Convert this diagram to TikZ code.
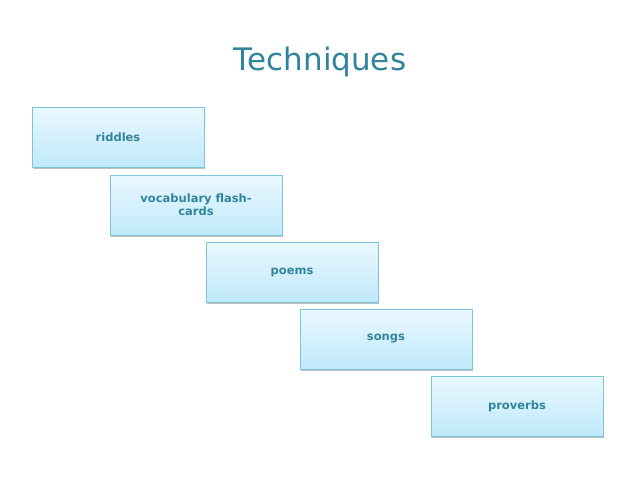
\documentclass[tikz,border=0pt]{standalone}
\usepackage{fontspec}
\setmainfont{DejaVu Sans}
\usetikzlibrary{shadows}
\definecolor{teal}{HTML}{31849B}
\definecolor{ttop}{HTML}{EAF8FE}
\definecolor{tbot}{HTML}{BFE9FB}
\definecolor{bord}{HTML}{7DC3D9}
\begin{document}
\begin{tikzpicture}[x=1pt,y=-1pt,
  box/.style={draw=bord,line width=0.8pt,top color=ttop,bottom color=tbot,
    minimum width=172pt,minimum height=60pt,text width=160pt,align=center,
    font=\bfseries\fontsize{11.5}{13}\selectfont,text=teal,
    drop shadow={shadow xshift=1pt,shadow yshift=-1.5pt,fill=gray!70,opacity=0.7}}]
\useasboundingbox[fill=white] (0,0) rectangle (640,480);
\node[text=teal,font=\fontsize{31}{36}\selectfont] (title) at (320,62) {Techniques};
\node[box] (riddles) at (118,137) {riddles};
\node[box] (vocab) at (196,205) {vocabulary flash-\\cards};
\node[box] (poems) at (292,272) {poems};
\node[box] (songs) at (386,339) {songs};
\node[box] (proverbs) at (517,406) {proverbs};
\end{tikzpicture}
\end{document}
